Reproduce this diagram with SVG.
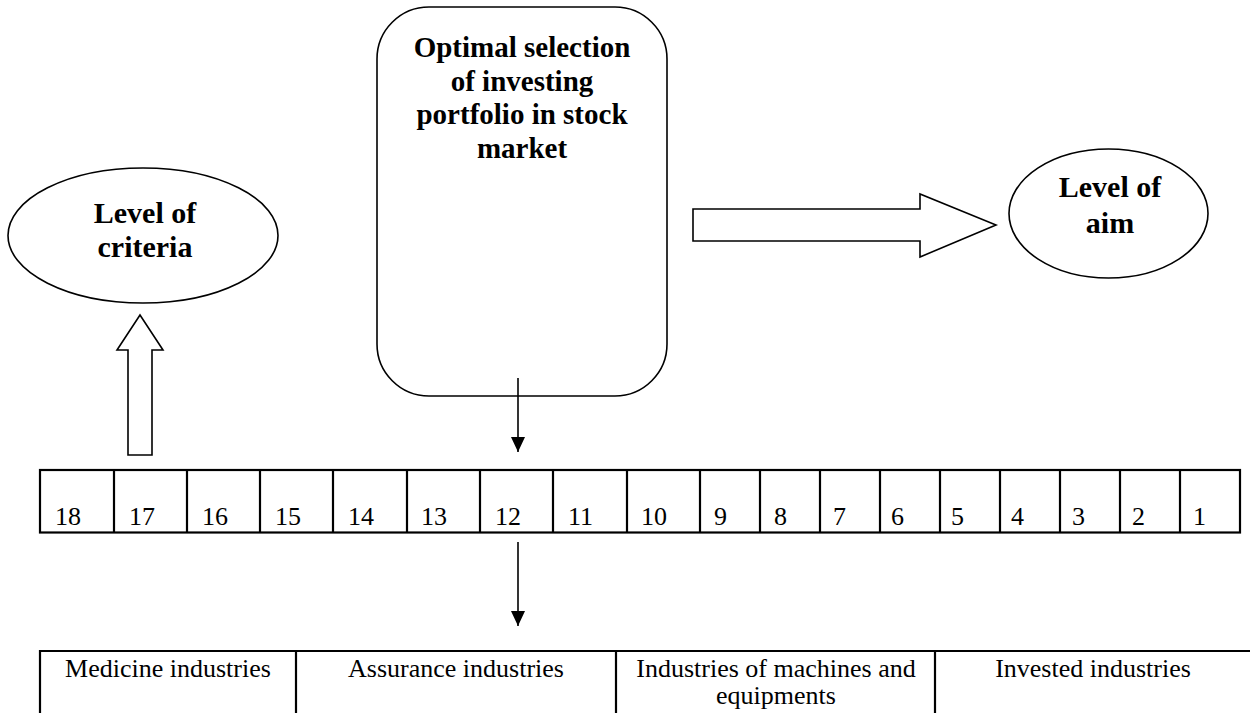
<svg xmlns="http://www.w3.org/2000/svg" width="1250" height="713" viewBox="0 0 1250 713">
<style>
.shape{fill:#fff;stroke:#000;stroke-width:1.6}
.grid{fill:none;stroke:#000;stroke-width:2.2}
text{font-family:"Liberation Serif","Times New Roman","DejaVu Serif",serif;fill:#000}
.bold{font-weight:bold;font-size:29px;text-anchor:middle}
.lvl{font-weight:bold;font-size:30px;text-anchor:middle}
.num{font-size:26px}
.ind{font-size:26px;text-anchor:middle}
.conn{stroke:#000;stroke-width:1.6;fill:none}
</style>
<defs>
<marker id="ah" viewBox="0 0 15 14" refX="15" refY="7" markerWidth="15" markerHeight="14" markerUnits="userSpaceOnUse" orient="auto">
<path d="M0,0 L15,7 L0,14 Z" fill="#000"/>
</marker>
</defs>
<rect width="1250" height="713" fill="#fff"/>

<g id="node-goal" font-family="Liberation Serif, serif">
<rect class="shape" x="377" y="7" width="290" height="389" rx="52" ry="52"/>
<text class="bold" x="522" y="57">Optimal selection</text>
<text class="bold" x="522" y="91">of investing</text>
<text class="bold" x="522" y="124">portfolio in stock</text>
<text class="bold" x="522" y="158">market</text>
</g>

<g id="node-criteria" font-family="Liberation Serif, serif">
<ellipse class="shape" cx="143" cy="235.5" rx="135" ry="67.5"/>
<text class="lvl" x="145" y="223">Level of</text>
<text class="lvl" x="145" y="257">criteria</text>
</g>

<g id="node-aim" font-family="Liberation Serif, serif">
<ellipse class="shape" cx="1108.5" cy="213.5" rx="99.5" ry="64.5"/>
<text class="lvl" x="1110" y="197">Level of</text>
<text class="lvl" x="1110" y="233">aim</text>
</g>

<g id="node-alternatives" font-family="Liberation Serif, serif">
<rect class="grid" x="40" y="470" width="1200" height="62.5"/>
<path class="grid" d="M114,470V532.5M187,470V532.5M260,470V532.5M333,470V532.5M407,470V532.5M480,470V532.5M553,470V532.5M627,470V532.5M700,470V532.5M760,470V532.5M820,470V532.5M880,470V532.5M940,470V532.5M1000,470V532.5M1060,470V532.5M1120,470V532.5M1180,470V532.5"/>
<text class="num" y="525">
<tspan x="55">18</tspan><tspan x="129">17</tspan><tspan x="202">16</tspan><tspan x="275">15</tspan><tspan x="348">14</tspan><tspan x="421">13</tspan><tspan x="495">12</tspan><tspan x="568">11</tspan><tspan x="641">10</tspan><tspan x="714">9</tspan><tspan x="774">8</tspan><tspan x="833">7</tspan><tspan x="891">6</tspan><tspan x="951">5</tspan><tspan x="1011">4</tspan><tspan x="1072">3</tspan><tspan x="1132">2</tspan><tspan x="1193">1</tspan>
</text>
</g>

<g id="node-industries" font-family="Liberation Serif, serif">
<path class="grid" d="M40,713V651H1252M296,651V713M616,651V713M935,651V713"/>
<text class="ind" x="168" y="677">Medicine industries</text>
<text class="ind" x="456" y="677">Assurance industries</text>
<text class="ind" x="776" y="677">Industries of machines and</text>
<text class="ind" x="776" y="704">equipments</text>
<text class="ind" x="1093" y="677">Invested industries</text>
</g>

<g id="connectors">
<path class="shape" d="M693,209H920V194L996,225L920,257V241H693Z"/>
<path class="shape" d="M128,455V350H117L140,315L163,350H152V455Z"/>
<line class="conn" x1="518" y1="378" x2="518" y2="452" marker-end="url(#ah)"/>
<line class="conn" x1="518" y1="542" x2="518" y2="626" marker-end="url(#ah)"/>
</g>
</svg>
